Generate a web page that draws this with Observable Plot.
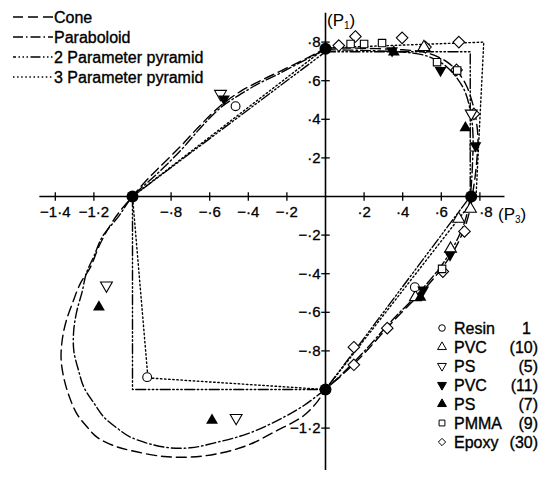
<!DOCTYPE html>
<html><head><meta charset="utf-8">
<script src="https://cdn.jsdelivr.net/npm/d3@7"></script>
<script src="https://cdn.jsdelivr.net/npm/@observablehq/plot@0.6"></script>
<style>
body{margin:0;background:#fff;}
#wrap{position:relative;width:546px;height:479px;}
text{font-family:"Liberation Sans",Arial,sans-serif;}
</style></head><body><div id="wrap"></div>
<script>
// ---- tick values and labels ----
const xTicks = [-1.4,-1.2,-1.0,-0.8,-0.6,-0.4,-0.2,0.2,0.4,0.6,0.8];
const xTickLabels = ["−1·4","−1·2","","−·8","−·6","−·4","−·2","·2","·4","·6","·8"];
const yTicks = [0.8,0.6,0.4,0.2,-0.2,-0.4,-0.6,-0.8,-1.0,-1.2];
const yTickLabels = ["·8","·6","·4","·2","−·2","−·4","−·6","−·8","","−1·2"];
const xAxisExtent = [-1.48, 0.93];
const yAxisExtent = [-1.42, 0.95];

// ---- yield loci (closed paths) ----
const coneX = [0,0.2,0.4,0.5,0.58,0.64,0.69,0.73,0.76,0.78,0.79,0.785,0.775,0.76,
  0.752,0.735,0.71,0.665,0.6,0.53,0.46,0.39,0.32,0.24,0.16,0.08,0,
  -0.04,-0.112,-0.25,-0.406,-0.561,-0.7,-0.838,-1.01,-1.1,-1.184,-1.23,-1.288,-1.33,-1.358,-1.37,-1.365,-1.345,-1.31,-1.27,-1.22,-1.17,-1.11,-1.06,-1,
  -0.94,-0.872,-0.751,-0.648,-0.544,-0.44,-0.337,-0.233,-0.13,-0.043,0];
const coneY = [0.77,0.768,0.76,0.75,0.725,0.69,0.64,0.575,0.49,0.4,0.3,0.2,0.1,0,
  -0.05,-0.12,-0.19,-0.28,-0.375,-0.46,-0.535,-0.605,-0.68,-0.77,-0.855,-0.93,-1,
  -1.06,-1.135,-1.212,-1.29,-1.333,-1.35,-1.347,-1.316,-1.29,-1.247,-1.2,-1.126,-1.03,-0.93,-0.84,-0.75,-0.65,-0.55,-0.45,-0.37,-0.25,-0.14,-0.07,0,
  0.07,0.14,0.26,0.37,0.47,0.545,0.6,0.65,0.7,0.745,0.77];

const paraX = [0,0.2,0.4,0.5,0.57,0.63,0.68,0.72,0.745,0.76,0.765,0.762,0.757,0.75,
  0.742,0.725,0.698,0.652,0.588,0.518,0.45,0.38,0.31,0.23,0.15,0.075,0,
  -0.04,-0.112,-0.25,-0.406,-0.561,-0.7,-0.838,-1.01,-1.08,-1.148,-1.2,-1.252,-1.28,-1.304,-1.305,-1.29,-1.26,-1.24,-1.2,-1.157,-1.07,-1,
  -0.872,-0.751,-0.648,-0.544,-0.44,-0.337,-0.233,-0.13,-0.043,0];
const paraY = [0.76,0.757,0.748,0.735,0.71,0.67,0.615,0.55,0.47,0.38,0.28,0.18,0.08,0,
  -0.05,-0.12,-0.19,-0.28,-0.375,-0.46,-0.535,-0.605,-0.68,-0.77,-0.855,-0.93,-1,
  -1.03,-1.083,-1.161,-1.23,-1.273,-1.302,-1.298,-1.247,-1.2,-1.143,-1.07,-0.988,-0.9,-0.8,-0.7,-0.6,-0.49,-0.4,-0.31,-0.21,-0.1,0,
  0.118,0.238,0.355,0.46,0.53,0.59,0.64,0.695,0.74,0.76];

const pyr2X = [0,0.75,0.75,0,-1,-1,0];
const pyr2Y = [0.75,0.75,0,-1,-1,0,0.75];
const pyr3X = [0,0.82,0.78,0,-0.92,-1,0];
const pyr3Y = [0.77,0.80,0,-1,-0.94,0,0.77];

// ---- intercept points (large filled dots) ----
const interceptX = [-1,0,0,0.755];
const interceptY = [0,-1,0.765,0];

// ---- experimental points ----
const resinX = [-0.466,-0.924,0.463];
const resinY = [0.468,-0.936,-0.47];
const pvc10X = [0.51,0.69,0.751,0.466,0.648];
const pvc10Y = [0.774,-0.116,-0.064,-0.522,-0.271];
const ps5X = [-0.544,-1.135,-0.463,0.755];
const ps5Y = [0.532,-0.461,-1.147,0.43];
const pvc11X = [-0.526,0.345,0.596,0.777,0.645,0.506];
const pvc11Y = [0.506,0.756,0.653,0.264,-0.302,-0.484];
const ps7X = [-1.174,-0.588,0.354,0.725,0.492];
const ps7Y = [-0.573,-1.16,0.748,0.356,-0.522];
const pmmaX = [0.13,0.2,0.293,0.578,0.682,0.769,0.604];
const pmmaY = [0.79,0.79,0.795,0.696,0.653,0.255,-0.375];
const epoxyX = [0.069,0.155,0.397,0.518,0.691,0.679,0.769,0.72,0.608,0.32,0.147,0.147];
const epoxyY = [0.782,0.829,0.822,0.774,0.8,0.656,0.428,-0.181,-0.389,-0.682,-0.781,-0.872];

const lineNames = ["Cone","Paraboloid","2 Parameter pyramid","3 Parameter pyramid"];
const pointNames = ["Resin","PVC","PS","PVC","PS","PMMA","Epoxy"];
const pointCounts = ["1","(10)","(5)","(11)","(7)","(9)","(30)"];

// ---- styles ----
const dashCone = "10,5";
const dashPara = "10,3,1.5,3";
const dashPyr2 = "10,2.5,1.5,2.5,1.5,2.5,1.5,2.5";
const dashPyr3 = "1.5,2.6";

const triangleDown = {draw(context, size){
  const y = Math.sqrt(size/(Math.sqrt(3)*3));
  context.moveTo(0, 2*y);
  context.lineTo(-Math.sqrt(3)*y, -y);
  context.lineTo(Math.sqrt(3)*y, -y);
  context.closePath();
}};

const pts = (xs, ys) => xs.map((x,i)=>({x, y: ys[i]}));
const font = "Liberation Sans, Arial, sans-serif";
const xTickData = xTicks.map((v,i)=>({v, label: xTickLabels[i]}));
const lastX = d3.max(xTicks);

const plot = Plot.plot({
  width: 546, height: 479,
  marginLeft: 35.5, marginRight: 28, marginTop: 12.65, marginBottom: 3.15,
  x: {domain: [-1.5, 1.0], axis: null},
  y: {domain: [-1.45, 0.95], axis: null},
  style: {fontFamily: font, background: "white", overflow: "visible"},
  marks: [
    Plot.ruleY([0], {x1: xAxisExtent[0], x2: xAxisExtent[1], stroke: "black", strokeWidth: 1.6}),
    Plot.ruleX([0], {y1: yAxisExtent[0], y2: yAxisExtent[1], stroke: "black", strokeWidth: 1.6}),
    Plot.link(xTicks, {x1: d=>d, x2: d=>d, y1: -0.022, y2: 0.022, stroke: "black", strokeWidth: 1.3}),
    Plot.link(yTicks, {y1: d=>d, y2: d=>d, x1: -0.022, x2: 0.022, stroke: "black", strokeWidth: 1.3}),
    Plot.text(xTickData.filter(d=>d.v!==lastX), {x: "v", y: 0, text: "label", dy: 16, fontSize: 15, fill: "black", stroke: "black", strokeWidth: 0.3}),
    Plot.text(xTickData.filter(d=>d.v===lastX), {x: "v", y: 0, text: "label", dy: 16, dx: 6, fontSize: 15, fill: "black", stroke: "black", strokeWidth: 0.3}),
    Plot.text(yTicks, {x: 0, y: d=>d, text: (d,i)=>yTickLabels[i], dx: -5, textAnchor: "end", fontSize: 15, fill: "black", stroke: "black", strokeWidth: 0.3}),
    Plot.line(pts(pyr3X, pyr3Y), {x: "x", y: "y", stroke: "black", strokeWidth: 1.4, strokeDasharray: dashPyr3}),
    Plot.line(pts(pyr2X, pyr2Y), {x: "x", y: "y", stroke: "black", strokeWidth: 1.4, strokeDasharray: dashPyr2}),
    Plot.line(pts(paraX, paraY), {x: "x", y: "y", curve: "catmull-rom", stroke: "black", strokeWidth: 1.4, strokeDasharray: dashPara}),
    Plot.line(pts(coneX, coneY), {x: "x", y: "y", curve: "catmull-rom", stroke: "black", strokeWidth: 1.4, strokeDasharray: dashCone}),
    Plot.dot(pts(interceptX, interceptY), {x: "x", y: "y", r: 6, fill: "black"}),
    Plot.dot(pts(epoxyX, epoxyY), {x: "x", y: "y", symbol: "diamond2", r: 5.2, stroke: "black", fill: "white", strokeWidth: 1.1}),
    Plot.dot(pts(pmmaX, pmmaY), {x: "x", y: "y", symbol: "square", r: 4.2, stroke: "black", fill: "white", strokeWidth: 1.1}),
    Plot.dot(pts(pvc10X, pvc10Y), {x: "x", y: "y", symbol: "triangle", r: 4.4, stroke: "black", fill: "white", strokeWidth: 1.1}),
    Plot.dot(pts(ps5X, ps5Y), {x: "x", y: "y", symbol: triangleDown, r: 4.4, stroke: "black", fill: "white", strokeWidth: 1.1}),
    Plot.dot(pts(resinX, resinY), {x: "x", y: "y", symbol: "circle", r: 4.4, stroke: "black", fill: "white", strokeWidth: 1.1}),
    Plot.dot(pts(pvc11X, pvc11Y), {x: "x", y: "y", symbol: triangleDown, r: 4.4, fill: "black"}),
    Plot.dot(pts(ps7X, ps7Y), {x: "x", y: "y", symbol: "triangle", r: 4.4, fill: "black"})
  ]
});
document.getElementById("wrap").appendChild(plot);

// ---- annotations & legends drawn into the same svg ----
const svg = d3.select(plot);
const g = svg.append("g").attr("font-family", font).attr("fill", "black").attr("text-anchor", "start");

function axisTitle(x, y, sub){
  const t = g.append("text").attr("x", x).attr("y", y).attr("font-size", 17).attr("text-anchor", "start");
  t.append("tspan").text("(P");
  t.append("tspan").attr("font-size", 10).attr("dy", 3).text(sub);
  t.append("tspan").attr("dy", -3).text(")");
}
axisTitle(327, 26, "1");
axisTitle(498, 220, "3");

// top-left line legend
const dashes = [dashCone, dashPara, dashPyr2, dashPyr3];
const offsets = [0, 0, 7, 0];
lineNames.forEach((name, i) => {
  const y = 17 + i*20;
  g.append("line").attr("x1", 13).attr("x2", 53).attr("y1", y).attr("y2", y)
    .attr("stroke", "black").attr("stroke-width", 1.5)
    .attr("stroke-dasharray", dashes[i]).attr("stroke-dashoffset", offsets[i]);
  g.append("text").attr("x", 54).attr("y", y + 5.5).attr("font-size", 16).attr("text-anchor", "start")
    .attr("stroke", "black").attr("stroke-width", 0.35).text(name);
});

// bottom-right marker legend
const legSymbols = [
  {s: d3.symbolCircle, fill: "white"},
  {s: d3.symbolTriangle, fill: "white"},
  {s: triangleDown, fill: "white"},
  {s: triangleDown, fill: "black"},
  {s: d3.symbolTriangle, fill: "black"},
  {s: d3.symbolSquare, fill: "white"},
  {s: d3.symbolDiamond2, fill: "white"}
];
pointNames.forEach((name, i) => {
  const y = 328 + i*19;
  g.append("path").attr("transform", `translate(442,${y})`)
    .attr("d", d3.symbol(legSymbols[i].s, 34)())
    .attr("fill", legSymbols[i].fill).attr("stroke", "black").attr("stroke-width", 1);
  g.append("text").attr("x", 454).attr("y", y + 5.5).attr("font-size", 16).attr("text-anchor", "start")
    .attr("stroke", "black").attr("stroke-width", 0.35).text(name);
  g.append("text").attr("x", i === 0 ? 531 : 538).attr("y", y + 5.5).attr("font-size", 16)
    .attr("text-anchor", "end").attr("stroke", "black").attr("stroke-width", 0.35).text(pointCounts[i]);
});
</script></body></html>
